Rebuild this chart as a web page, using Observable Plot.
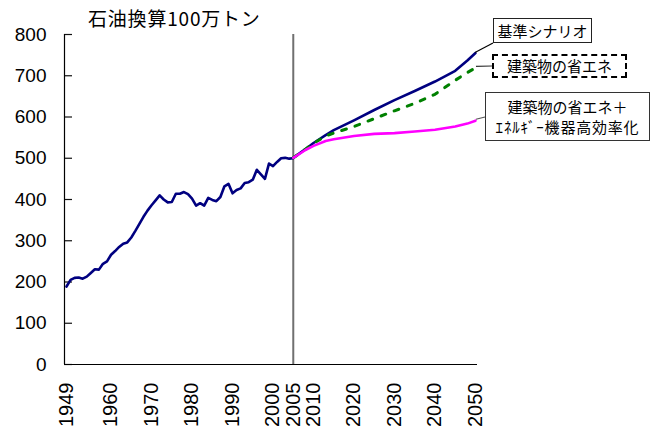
<!DOCTYPE html>
<html><head><meta charset="utf-8">
<script src="https://cdn.jsdelivr.net/npm/d3@7"></script>
<script src="https://cdn.jsdelivr.net/npm/@observablehq/plot@0.6"></script>
<style>
body{margin:0;background:#fff;}
#wrap{position:relative;width:651px;height:427px;overflow:hidden;background:#fff;}
#wrap svg{position:absolute;left:0;top:0;}
.ttl{position:absolute;font-family:"Noto Sans CJK JP",sans-serif;font-size:19px;letter-spacing:0.8px;color:#000;white-space:nowrap;line-height:24px;}
.box{position:absolute;box-sizing:border-box;background:#fff;color:#000;font-family:"Noto Sans CJK JP",sans-serif;font-size:15px;display:flex;flex-direction:column;align-items:center;justify-content:center;text-align:center;line-height:20px;white-space:nowrap;}
</style></head><body><div id="wrap"></div>
<script>
// ---- data ----
const histYears = d3.range(1949, 2006);
const histValues = [
  189, 205, 210, 211, 208, 213, 222, 231, 230, 244,
  250, 266, 275, 285, 293, 296, 308, 324, 341, 358,
  373, 386, 398, 410, 400, 393, 394, 414, 414, 418,
  413, 402, 385, 391, 385, 404, 399, 396, 406, 432,
  438, 415, 423, 427, 440, 442, 448, 472, 461, 450,
  487, 481, 491, 500, 501, 499, 500
];
const projYears = [2005, 2008, 2010, 2013, 2015, 2020, 2025, 2030, 2035, 2040, 2045, 2048, 2050];
const baseValues      = [501, 522, 537, 556, 568, 592, 617, 641, 663, 686, 712, 737, 755];
const bldgValues      = [501, 522, 536, 554, 561, 577, 596, 615, 633, 655, 689, 708, 719];
const bldgEquipValues = [501, 520, 530, 542, 546, 554, 559, 561, 565, 569, 577, 584, 591];
const seriesNames = ["基準シナリオ", "建築物の省エネ", "建築物の省エネ＋", "ｴﾈﾙｷﾞｰ機器高効率化"];
const yTicks = [0, 100, 200, 300, 400, 500, 600, 700, 800];
const xTickYears = [1949, 1960, 1970, 1980, 1990, 2000, 2005, 2010, 2020, 2030, 2040, 2050];
const titleText = "石油換算100万トン";
const xDomain = [1948.5, 2050.5];
const yDomain = [0, 800];

// ---- tables ----
const hist = histYears.map((year, i) => ({year, value: histValues[i]}));
const base = projYears.map((year, i) => ({year, value: baseValues[i]}));
const bldg = projYears.map((year, i) => ({year, value: bldgValues[i]}));
const equip = projYears.map((year, i) => ({year, value: bldgEquipValues[i]}));

const W = 651, H = 427, ML = 64, MR = 174, MT = 34, MB = 63;
const tickLen = 8;
const font = "Liberation Sans, Arial, sans-serif";
const chart = Plot.plot({
  width: W,
  height: H,
  marginLeft: ML,
  marginRight: MR,
  marginTop: MT,
  marginBottom: MB,
  style: {fontFamily: font, fontSize: "19px", color: "#000", background: "transparent", overflow: "visible"},
  x: {domain: xDomain, axis: null},
  y: {domain: yDomain, axis: null},
  marks: [
    Plot.axisY({ticks: yTicks, tickSize: 0, tickPadding: 18, fontSize: 19, label: null, tickFormat: d => String(d)}),
    Plot.tickY(yTicks, {y: d => d, insetRight: W - ML - MR - tickLen, stroke: "#111", strokeWidth: 1.2}),
    Plot.axisX({ticks: xTickYears, tickSize: 0, tickPadding: 18, tickRotate: -90, fontSize: 20, label: null, tickFormat: d => String(d)}),
    Plot.ruleX([projYears[0]], {stroke: "#707070", strokeWidth: 2}),
    Plot.ruleX([xDomain[0]], {stroke: "#000", strokeWidth: 1.2}),
    Plot.ruleY([yDomain[0]], {stroke: "#000", strokeWidth: 1.2}),
    Plot.line(hist, {x: "year", y: "value", stroke: "#000080", strokeWidth: 2.6, strokeLinejoin: "round"}),
    Plot.line(base, {x: "year", y: "value", stroke: "#000080", strokeWidth: 2.6, strokeLinejoin: "round"}),
    Plot.line(bldg, {x: "year", y: "value", stroke: "#008000", strokeWidth: 3, strokeDasharray: "5,9"}),
    Plot.line(equip, {x: "year", y: "value", stroke: "#ff00ff", strokeWidth: 2.6, strokeLinejoin: "round"})
  ]
});

const wrap = document.getElementById("wrap");
wrap.appendChild(chart);

// title
const t = document.createElement("div");
t.className = "ttl";
t.textContent = titleText;
t.style.left = "88px";
t.style.top = "6px";
wrap.appendChild(t);

// annotation boxes
function addBox(lines, left, top, w, h, border, spacing) {
  const b = document.createElement("div");
  b.className = "box";
  b.style.left = left + "px"; b.style.top = top + "px";
  b.style.width = w + "px"; b.style.height = h + "px";
  b.style.border = border;
  lines.forEach((s, i) => {
    const d = document.createElement("div");
    d.textContent = s;
    if (spacing && spacing[i]) d.style.letterSpacing = spacing[i] + "px";
    b.appendChild(d);
  });
  wrap.appendChild(b);
}
addBox([seriesNames[0]], 493, 18, 99, 25, "1.5px solid #222");
addBox([seriesNames[1]], 492, 54, 135, 24, "2px dashed #000");
addBox([seriesNames[2], seriesNames[3]], 485, 92, 165, 49, "1.5px solid #333", [0, 0.8]);

// leader lines from series ends to boxes
const sx = chart.scale("x"), sy = chart.scale("y");
const last = projYears.length - 1;
const ends = [
  [sx.apply(projYears[last]), sy.apply(baseValues[last]), 493, 43, "#000"],
  [sx.apply(projYears[last]) + 1, sy.apply(bldgValues[last]) - 1, 492, 66, "#333"],
  [sx.apply(projYears[last]) + 1, sy.apply(bldgEquipValues[last]) - 1, 485, 117, "#555"]
];
const ov = d3.select(wrap).append("svg").attr("width", W).attr("height", H).style("pointer-events", "none");
ov.selectAll("line").data(ends).join("line")
  .attr("x1", d => d[0]).attr("y1", d => d[1]).attr("x2", d => d[2]).attr("y2", d => d[3])
  .attr("stroke", d => d[4]).attr("stroke-width", 1.2);
</script></body></html>
